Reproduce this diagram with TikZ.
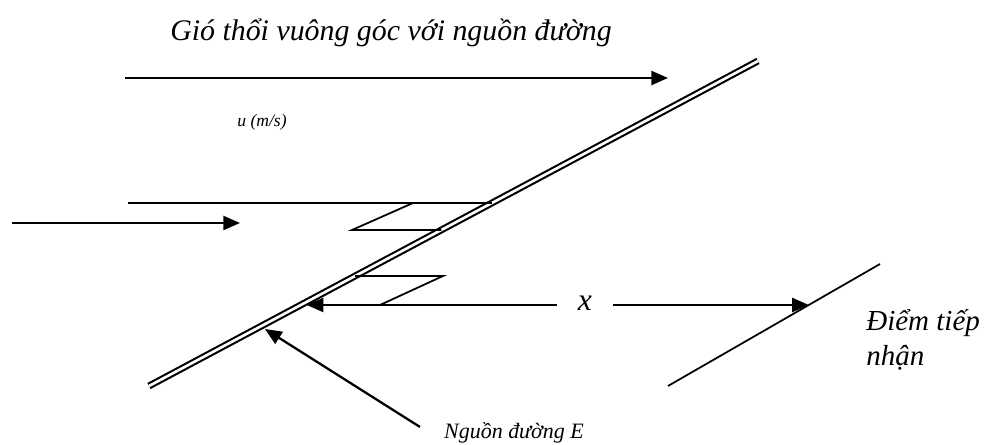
\documentclass[tikz,border=0pt]{standalone}
\usepackage{fontspec}
\setmainfont{Liberation Serif}
\usetikzlibrary{arrows.meta,positioning,calc}

\begin{document}
\begin{tikzpicture}[x=0.02cm,y=-0.02cm,font=\itshape,
  wind/.style={line width=1.3pt,-{Triangle[length=9.5pt,width=8pt]}},
  plume/.style={line width=1pt}]

\useasboundingbox (0,0) rectangle (985,445);

% Title
\node[font=\itshape\fontsize{17}{20}\selectfont] (title) at (391,33) {Gió thổi vuông góc với nguồn đường};

% Line source
\coordinate (src1) at (149,386);
\coordinate (src2) at (758,61);
\draw[line width=1.2pt,double=white,double distance=1.5pt] (src1) -- (src2);

\coordinate (s203) at (intersection of src1--src2 and 0,203--10,203);
\coordinate (s230) at (intersection of src1--src2 and 0,230--10,230);
\coordinate (s276) at (intersection of src1--src2 and 0,276--10,276);
\coordinate (s305) at (intersection of src1--src2 and 0,305--10,305);

% Wind
\coordinate (w1a) at (125,78);
\coordinate (w1b) at (668,78);
\draw[wind] (w1a) -- (w1b);
\node[font=\itshape\fontsize{10}{12}\selectfont] (speed) at (262,122) {u (m/s)};

\coordinate (w2a) at (12,223);
\coordinate (w2b) at (240,223);
\draw[wind] (w2a) -- (w2b);

% Plume edges
\coordinate (p1) at (128,203);
\coordinate (p2) at (413,203);
\coordinate (p3) at (352,230);
\coordinate (p4) at (443,276);
\coordinate (p5) at (380,305);
\draw[plume] (p1) -- (s203);
\draw[plume] (p2) -- (p3) -- (s230);
\draw[plume] (s276) -- (p4) -- (p5);

% Receptor
\coordinate (rcv1) at (668,386);
\coordinate (rcv2) at (880,264);
\draw[plume] (rcv1) -- (rcv2);
\coordinate (rcvhit) at (intersection of rcv1--rcv2 and 0,305--10,305);
\node[font=\itshape\fontsize{16.5}{20}\selectfont,align=left,anchor=north west,inner sep=0pt] (recvlabel) at (866,309) {Điểm tiếp\\nhận};

% Distance x
\node[font=\itshape\fontsize{18}{20}\selectfont,inner xsep=12pt] (xlabel) at (585,303) {x};
\coordinate (tipx) at ($(s305)+(6,0)$);
\draw[wind] (xlabel.west |- s305) -- (tipx);
\draw[wind] (xlabel.east |- s305) -- (rcvhit);

% Source label
\node[font=\itshape\fontsize{12.5}{14}\selectfont] (srclabel) at (514,433) {Nguồn đường E};
\coordinate (e0) at (420,427);
\coordinate (tipE) at (265,329);
\draw[wind] (e0) -- (tipE);

\end{tikzpicture}
\end{document}
